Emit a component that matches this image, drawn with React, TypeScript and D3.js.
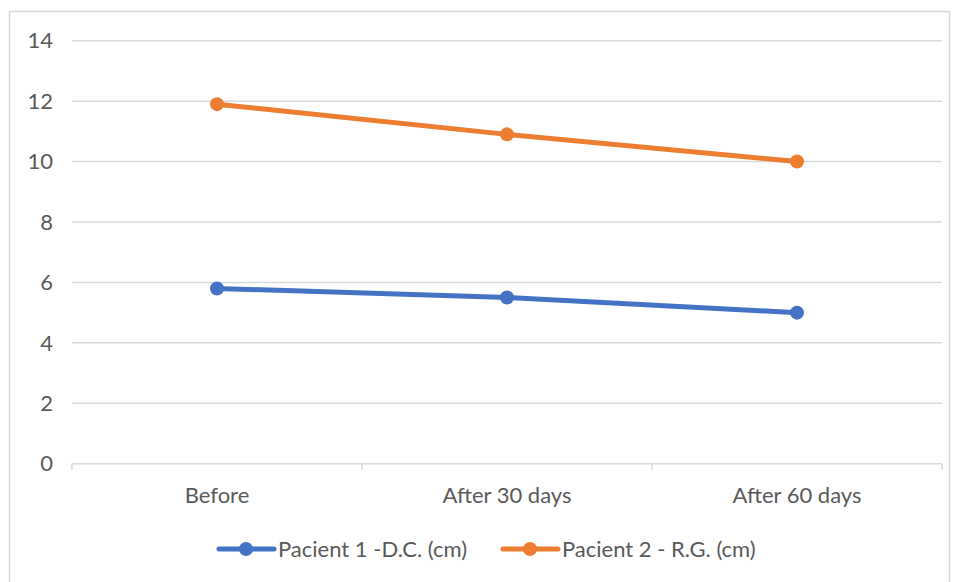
import React from "react";
import * as d3 from "d3";

const categories = ["Before", "After 30 days", "After 60 days"];
const seriesNames = ["Pacient 1 -D.C. (cm)", "Pacient 2 - R.G. (cm)"];
const pacient1 = [5.8, 5.5, 5.0];
const pacient2 = [11.9, 10.9, 10.0];
const yTicks = [0, 2, 4, 6, 8, 10, 12, 14];
const colors = ["#4472C4", "#ED7D31"];

const W = 955, H = 582;
const left = 72, right = 942, top = 40.7, bottom = 463.7;
const font = "Lato, 'Open Sans', sans-serif";
const textColor = "#595959";
const fs = 22;

export default function App() {
  const x = d3.scaleBand().domain(categories).range([left, right]);
  const y = d3.scaleLinear().domain([0, 14]).range([bottom, top]);
  const line = d3.line<number>()
    .x((_, i) => (x(categories[i]) as number) + x.bandwidth() / 2)
    .y((d) => y(d));
  const series = [pacient1, pacient2];
  const legendX = [219, 503];
  return (
    <svg width={W} height={H} style={{ position: "absolute", left: 0, top: 0 }}>
      <rect x={0} y={0} width={W} height={H} fill="#fff" />
      <rect x={9.5} y={11.5} width={940} height={575} fill="none" stroke="#d9d9d9" strokeWidth={1.5} />
      {yTicks.map((t) => (
        <g key={t}>
          <line x1={left} x2={right} y1={y(t)} y2={y(t)} stroke="#d9d9d9" strokeWidth={1.5} />
          <text x={53} y={y(t)} dy="0.35em" textAnchor="end" fontFamily={font} fontSize={fs} fill={textColor}>{t}</text>
        </g>
      ))}
      {[...categories.map((c) => x(c) as number), right].map((v, i) => (
        <line key={i} x1={v} x2={v} y1={bottom} y2={bottom + 6} stroke="#d9d9d9" strokeWidth={1.5} />
      ))}
      {categories.map((c) => (
        <text key={c} x={(x(c) as number) + x.bandwidth() / 2} y={503} textAnchor="middle" fontFamily={font} fontSize={fs} fill={textColor}>{c}</text>
      ))}
      {series.map((s, si) => (
        <g key={si}>
          <path d={line(s) || ""} fill="none" stroke={colors[si]} strokeWidth={5} strokeLinecap="round" />
          {s.map((v, i) => (
            <circle key={i} cx={(x(categories[i]) as number) + x.bandwidth() / 2} cy={y(v)} r={7} fill={colors[si]} />
          ))}
        </g>
      ))}
      {seriesNames.map((n, i) => (
        <g key={n}>
          <line x1={legendX[i]} x2={legendX[i] + 55} y1={549} y2={549} stroke={colors[i]} strokeWidth={5} strokeLinecap="round" />
          <circle cx={legendX[i] + 27} cy={549} r={7} fill={colors[i]} />
          <text x={legendX[i] + 59} y={549} dy="0.35em" fontFamily={font} fontSize={fs} fill={textColor}>{n}</text>
        </g>
      ))}
    </svg>
  );
}
